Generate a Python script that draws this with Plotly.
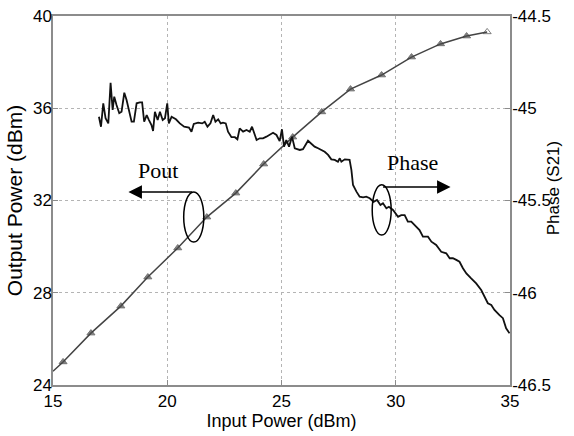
import plotly.graph_objects as go

# Output power (left axis), triangles markers
pin = [15.0, 15.44, 16.66, 17.97, 19.15, 20.46, 21.73, 23.0, 24.22, 25.49,
       26.76, 28.02, 29.38, 30.69, 31.96, 33.1, 34.0]
pout = [24.6, 25.0, 26.25, 27.42, 28.68, 29.94, 31.28, 32.32, 33.58, 34.75,
        35.84, 36.83, 37.44, 38.22, 38.79, 39.13, 39.31]

# Phase of S21 (right axis)
pin_phase = [17.01, 17.10, 17.20, 17.30, 17.42, 17.52, 17.61, 17.68, 17.78, 17.90,
             18.00, 18.12, 18.22, 18.34, 18.44, 18.54, 18.66, 18.80, 18.90, 18.99,
             19.10, 19.20, 19.31, 19.38, 19.46, 19.58, 19.68, 19.80, 19.90, 20.00,
             20.07, 20.19, 20.38, 20.55, 20.74, 20.95, 21.06, 21.16, 21.28, 21.35,
             21.53, 21.64, 21.76, 21.89, 22.01, 22.11, 22.23, 22.34, 22.44, 22.56,
             22.66, 22.81, 22.96, 23.07, 23.17, 23.32, 23.47, 23.61, 23.71, 23.83,
             23.91, 24.05, 24.19, 24.34, 24.49, 24.63, 24.78, 24.92, 25.02, 25.11,
             25.21, 25.33, 25.46, 25.58, 25.80, 25.94, 26.16, 26.31, 26.45, 26.60,
             26.75, 26.89, 27.04, 27.18, 27.33, 27.47, 27.55, 27.62, 27.77, 27.98,
             28.06, 28.13, 28.28, 28.42, 28.57, 28.71, 28.86, 29.03, 29.18, 29.33,
             29.44, 29.59, 29.70, 29.88, 30.10, 30.24, 30.39, 30.53, 30.68, 30.83,
             31.04, 31.19, 31.41, 31.56, 31.77, 31.99, 32.21, 32.36, 32.50, 32.65,
             32.79, 32.94, 33.09, 33.30, 33.52, 33.74, 33.89, 34.03, 34.18, 34.32,
             34.54, 34.69, 34.83, 34.98]
phase = [-45.046, -45.100, -44.973, -45.054, -45.082, -44.862, -45.009, -44.937, -44.982, -45.027,
         -45.019, -44.916, -44.955, -45.027, -45.073, -45.073, -44.973, -44.968, -44.968, -45.073,
         -45.037, -45.064, -45.091, -45.123, -45.019, -45.064, -45.019, -45.064, -45.054, -44.973,
         -45.082, -45.046, -45.060, -45.082, -45.100, -45.105, -45.127, -45.085, -45.082, -45.078,
         -45.082, -45.073, -45.100, -45.082, -45.037, -45.073, -45.060, -45.082, -45.078, -45.082,
         -45.127, -45.157, -45.157, -45.168, -45.109, -45.127, -45.118, -45.127, -45.100, -45.145,
         -45.172, -45.163, -45.163, -45.154, -45.145, -45.133, -45.145, -45.178, -45.114, -45.208,
         -45.172, -45.208, -45.154, -45.217, -45.226, -45.222, -45.176, -45.194, -45.208, -45.217,
         -45.226, -45.236, -45.253, -45.277, -45.280, -45.290, -45.271, -45.290, -45.277, -45.280,
         -45.335, -45.416, -45.452, -45.479, -45.483, -45.479, -45.488, -45.507, -45.497, -45.524,
         -45.515, -45.542, -45.534, -45.551, -45.588, -45.579, -45.579, -45.615, -45.615, -45.633,
         -45.660, -45.696, -45.696, -45.723, -45.741, -45.778, -45.786, -45.813, -45.813, -45.822,
         -45.832, -45.867, -45.895, -45.922, -45.949, -45.985, -46.021, -46.057, -46.066, -46.093,
         -46.121, -46.138, -46.193, -46.220]

x_ticks = [15, 20, 25, 30, 35]
y_ticks = [24, 28, 32, 36, 40]
y2_ticks = [-46.5, -46, -45.5, -45, -44.5]
y2_labels = ["-46.5", "-46", "-45.5", "-45", "-44.5"]

FONT = "Liberation Sans, Arial, sans-serif"
SERIF = "Liberation Serif, Times New Roman, serif"
AX = "#8c8c8c"
GRID = "#b4b4b4"

n = len(pin)
symbols = ["triangle-up"] * (n - 1) + ["triangle-up-open"]
sizes = [0] + [7] * (n - 2) + [7]

fig = go.Figure()
fig.add_trace(go.Scatter(
    x=pin_phase, y=phase, yaxis="y2", mode="lines",
    line=dict(color="#111111", width=1.8), showlegend=False))
fig.add_trace(go.Scatter(
    x=pin, y=pout, mode="lines+markers",
    line=dict(color="#444444", width=1.5),
    marker=dict(symbol=symbols, size=sizes, color="#4d4d4d",
                line=dict(color="#3a3a3a", width=1)),
    showlegend=False))

# annotation ellipses and arrows
fig.add_shape(type="circle", xref="x", yref="y", x0=20.72, x1=21.6, y0=30.2, y1=32.37,
              line=dict(color="black", width=1.5))
fig.add_shape(type="circle", xref="x", yref="y", x0=28.97, x1=29.8, y0=30.5, y1=32.68,
              line=dict(color="black", width=1.5))
fig.add_annotation(x=18.3, y=32.37, ax=21.16, ay=32.37, xref="x", yref="y",
                   axref="x", ayref="y", showarrow=True, arrowhead=2, arrowsize=1.8,
                   arrowwidth=1.5, arrowcolor="black", text="")
fig.add_annotation(x=32.4, y=32.58, ax=29.38, ay=32.58, xref="x", yref="y",
                   axref="x", ayref="y", showarrow=True, arrowhead=2, arrowsize=1.8,
                   arrowwidth=1.5, arrowcolor="black", text="")
fig.add_annotation(x=19.59, y=33.32, xref="x", yref="y", text="Pout", showarrow=False,
                   font=dict(family=SERIF, size=22, color="black"))
fig.add_annotation(x=30.74, y=33.63, xref="x", yref="y", text="Phase", showarrow=False,
                   font=dict(family=SERIF, size=22, color="black"))

# right axis title (overlaps tick labels as in the original)
fig.add_annotation(x=1.097, y=0.534, xref="paper", yref="paper", text="Phase (S21)",
                   xanchor="center", yanchor="middle",
                   textangle=-90, showarrow=False,
                   font=dict(family=FONT, size=17, color="black"))

fig.update_layout(
    width=574, height=436,
    margin=dict(l=53, r=64, t=16, b=51, autoexpand=False),
    paper_bgcolor="white", plot_bgcolor="white",
    font=dict(family=FONT, size=17, color="black"),
    xaxis=dict(range=[15, 35], tickvals=x_ticks, showgrid=True, gridcolor=GRID,
               griddash="dot", gridwidth=1, showline=True, linecolor=AX, linewidth=1.5,
               mirror=True, ticks="inside", ticklen=5, tickcolor=AX, zeroline=False,
               automargin=False, ticklabelstandoff=0,
               title=dict(text="Input Power (dBm)", font=dict(size=18), standoff=4),
               tickfont=dict(size=17)),
    yaxis=dict(range=[24, 40], tickvals=y_ticks, showgrid=True, gridcolor=GRID,
               griddash="dot", gridwidth=1, showline=True, linecolor=AX, linewidth=1.5,
               ticks="inside", ticklen=5, tickcolor=AX, zeroline=False,
               automargin=False, ticklabelstandoff=-4,
               title=dict(text="Output Power (dBm)", font=dict(size=21), standoff=5),
               tickfont=dict(size=17)),
    yaxis2=dict(range=[-46.5, -44.5], tickvals=y2_ticks, ticktext=y2_labels,
                overlaying="y", side="right", showgrid=False, showline=True,
                linecolor=AX, linewidth=1.5, ticks="inside", ticklen=5, tickcolor=AX,
                zeroline=False, automargin=False, ticklabelstandoff=-3,
                tickfont=dict(size=17)),
)

fig.write_html("out.html", config={"displayModeBar": False},
               post_script="document.body.style.margin='0px';")
